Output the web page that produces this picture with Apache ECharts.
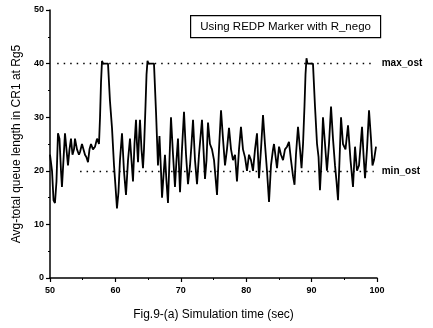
<!DOCTYPE html>
<html><head><meta charset="utf-8">
<script src="https://cdn.jsdelivr.net/npm/echarts@6/dist/echarts.min.js"></script>
<style>html,body{margin:0;padding:0;background:#fff}#c{width:433px;height:328px}</style>
</head><body><div id="c"></div>
<script>
const times = [50.00,50.31,50.54,50.76,50.99,51.22,51.45,51.68,51.83,52.06,52.29,52.52,52.75,52.98,53.21,53.44,53.67,53.82,54.13,54.43,54.59,54.89,55.05,55.35,55.58,55.81,56.04,56.27,56.57,56.88,57.19,57.49,57.65,57.80,57.95,58.10,58.87,59.17,59.48,59.79,60.02,60.24,60.47,60.70,61.01,61.31,61.62,61.93,62.23,62.46,62.69,62.92,63.15,63.30,63.46,63.61,63.76,63.99,64.22,64.37,64.60,64.76,64.91,65.06,65.90,66.21,66.51,66.74,66.97,67.13,67.35,67.58,67.81,68.04,68.27,68.50,68.81,69.11,69.34,69.57,69.72,69.88,70.18,70.49,70.80,71.10,71.41,71.64,71.87,72.17,72.48,72.78,73.24,73.47,73.70,73.93,74.16,74.46,74.77,75.08,75.54,75.84,76.15,76.45,76.76,77.06,77.37,77.68,77.98,78.29,78.59,78.90,79.20,79.51,79.82,80.12,80.43,80.73,81.04,81.35,81.65,81.96,82.26,82.57,82.87,83.18,83.49,83.79,84.10,84.25,84.56,84.71,85.02,85.32,85.63,85.93,86.24,86.54,86.85,87.16,87.39,87.61,87.92,88.23,88.46,88.69,88.91,89.07,89.22,89.37,90.21,90.52,90.83,91.06,91.28,91.51,91.74,92.05,92.35,92.66,92.97,93.27,93.58,93.81,94.04,94.27,94.50,94.80,95.18,95.57,95.95,96.33,96.64,96.94,97.25,97.71,97.94,98.17,98.47,98.78,99.08,99.31,99.54,99.85];
const queueLen = [23,20,14.5,14,18,27,26,20,17,22,27,24,21,24,26,23,24,26,24,23,23.5,25,25,23,22.5,21.6,24,25,24,24.5,26,25,30,36.5,40.5,40,40,33,28,21,17,13,16,22,27,20,15.5,22,26,22,18,25,29.5,25,21.6,26,29.5,24,20.5,24,32,38,40.5,40,40,31,21,26.5,20,15,19,23,18,14,22,30,23,17,22,26,21,16,24,31,23,17.5,21,25,29.5,22,17.5,23,29.5,24,18.5,22,29,25,24,22,15.5,24,31.3,26,21,24,28,24,22,23,18,24,28.2,24,22.5,20,23,22,20,24,27,18.6,24,30.4,25,20,14.2,21,24,25,22,20.5,24.5,23,22,24,24.5,25.4,22,19,17.4,23,28.2,24,20.5,25,32,38,41,40,40,32,25,22.6,16.4,22,30,25,20,25,32,26,21,18,14.5,22,30,25,24,28.5,22,17,24.5,20,21,28.2,23,18.6,24,31.3,26,21,22,24.5];
const thresholds = [40, 20];
const thresholdNames = ['max_ost', 'min_ost'];
const thresholdStart = [51.1, 54.6];
const thresholdEnd = [99.5, 99.5];
const legendText = 'Using REDP Marker with R_nego';

const font = 'Liberation Sans, Arial, sans-serif';
const chart = echarts.init(document.getElementById('c'));
const data = times.map((t, i) => [t, queueLen[i]]);
chart.setOption({
  animation: false,
  grid: {left: 50, right: 56, top: 10, bottom: 50},
  xAxis: {
    type: 'value', min: 50, max: 100, interval: 10,
    name: 'Fig.9-(a) Simulation time (sec)', nameLocation: 'middle', nameGap: 31,
    nameTextStyle: {fontFamily: font, fontSize: 12, color: '#000'},
    axisLine: {lineStyle: {color: '#000', width: 1.5}},
    axisTick: {show: true, inside: false, length: 4, lineStyle: {color: '#000', width: 1.2}},
    minorTick: {show: true, splitNumber: 2, length: 2, lineStyle: {color: '#000'}},
    axisLabel: {fontFamily: font, fontSize: 9, fontWeight: 'bold', color: '#000', margin: 8},
    splitLine: {show: false}
  },
  yAxis: {
    type: 'value', min: 0, max: 50, interval: 10,
    name: 'Avg-total queue length in CR1 at Rg5', nameLocation: 'middle', nameGap: 22,
    nameTextStyle: {fontFamily: font, fontSize: 12, color: '#000'},
    axisLine: {show: true, lineStyle: {color: '#000', width: 1.5}},
    axisTick: {show: true, inside: false, length: 4, lineStyle: {color: '#000', width: 1.2}},
    minorTick: {show: true, splitNumber: 2, length: 2, lineStyle: {color: '#000'}},
    axisLabel: {fontFamily: font, fontSize: 9, fontWeight: 'bold', color: '#000', margin: 6},
    splitLine: {show: false}
  },
  graphic: [{
    type: 'group', left: 190, top: 15,
    children: [
      {type: 'rect', shape: {x: 0, y: 0, width: 190, height: 22}, style: {fill: '#fff', stroke: '#000', lineWidth: 1.2}},
      {type: 'text', x: 95, y: 11, style: {text: legendText, fontFamily: font, fontSize: 11.5, fill: '#000', align: 'center', verticalAlign: 'middle'}}
    ]
  }],
  series: [{
    type: 'line', data: data, showSymbol: false,
    lineStyle: {color: '#000', width: 1.8},
    markLine: {
      silent: true, symbol: 'none',
      lineStyle: {color: '#000', type: [1.5, 5], width: 1.3},
      label: {show: true, position: 'end', distance: 8, fontFamily: font, fontSize: 10, fontWeight: 'bold', color: '#000',
        formatter: p => p.name},
      data: thresholds.map((v, i) => [
        {name: thresholdNames[i], coord: [thresholdStart[i], v]},
        {coord: [thresholdEnd[i], v]}
      ])
    }
  }]
});
</script></body></html>
